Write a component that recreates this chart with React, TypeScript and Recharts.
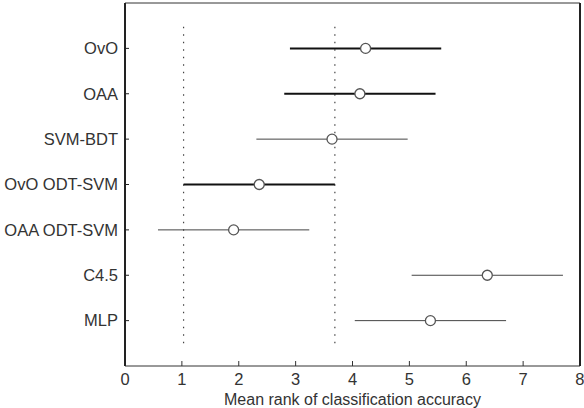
import { ScatterChart, Scatter, XAxis, YAxis, ErrorBar, ReferenceLine, Label } from "recharts";

// Mean ranks (Friedman / Nemenyi style comparison), top to bottom
const methods = ["OvO", "OAA", "SVM-BDT", "OvO ODT-SVM", "OAA ODT-SVM", "C4.5", "MLP"];
const meanRanks = [4.23, 4.13, 3.64, 2.36, 1.91, 6.37, 5.37];
const boldMethods = ["OvO", "OAA", "OvO ODT-SVM"];
const criticalDifference = 2.66;
const controlMethod = "OvO ODT-SVM";
const rankTicks = [0, 1, 2, 3, 4, 5, 6, 7, 8];
const rowTicks = [1, 2, 3, 4, 5, 6, 7];

const rows = methods.map((name, i) => ({
  name,
  pos: methods.length - i,
  rank: meanRanks[i],
  err: criticalDifference / 2,
}));
const boldRows = rows.filter((r) => boldMethods.includes(r.name));
const thinRows = rows.filter((r) => !boldMethods.includes(r.name));

const control = rows.find((r) => r.name === controlMethod)!;
const cdLow = control.rank - criticalDifference / 2;
const cdHigh = control.rank + criticalDifference / 2;

const font = "'Liberation Sans', Arial, sans-serif";
const tickStyle = { fontSize: 16.5, fill: "#333", fontFamily: font };
const axisDark = { stroke: "#222", strokeWidth: 2 };
const axisThin = { stroke: "#333", strokeWidth: 1 };

const RankCircle = (p: any) => (
  <circle cx={p.cx} cy={p.cy} r={5} fill="#fff" stroke="#555" strokeWidth={1.3} />
);

export default function App() {
  return (
    <div style={{ position: "absolute", left: 0, top: 0, fontFamily: font }}>
      <ScatterChart
        width={584}
        height={408}
        margin={{ top: 2, right: 3, left: 5, bottom: 0 }}
        style={{ background: "#fff" }}
      >
        <XAxis
          type="number"
          dataKey="rank"
          domain={[0, 8]}
          ticks={rankTicks}
          height={42}
          tick={tickStyle}
          tickSize={-5}
          tickMargin={12}
          axisLine={axisThin}
          tickLine={{ stroke: "#333" }}
        >
          <Label
            value="Mean rank of classification accuracy"
            position="insideBottom"
            offset={3}
            style={{ fontSize: 16, fill: "#333", fontFamily: font }}
          />
        </XAxis>
        <XAxis
          xAxisId="top"
          orientation="top"
          type="number"
          domain={[0, 8]}
          ticks={rankTicks}
          height={1}
          tickFormatter={() => ""}
          tickSize={-5}
          axisLine={axisThin}
          tickLine={{ stroke: "#333" }}
        />
        <YAxis
          type="number"
          dataKey="pos"
          domain={[0, 8]}
          ticks={rowTicks}
          width={120}
          tick={tickStyle}
          tickFormatter={(v: number) => methods[methods.length - v]}
          tickSize={-4}
          tickMargin={11}
          axisLine={axisDark}
          tickLine={{ stroke: "#222" }}
        />
        <YAxis
          yAxisId="right"
          orientation="right"
          type="number"
          domain={[0, 8]}
          ticks={rowTicks}
          width={1}
          tickFormatter={() => ""}
          tickSize={-5}
          axisLine={axisDark}
          tickLine={{ stroke: "#222" }}
        />
        {[cdLow, cdHigh].map((x) => (
          <ReferenceLine
            key={x}
            segment={[
              { x, y: 0.5 },
              { x, y: 7.5 },
            ]}
            stroke="#444"
            strokeWidth={1.2}
            strokeDasharray="1.5 6"
            ifOverflow="visible"
          />
        ))}
        <Scatter data={thinRows} shape={RankCircle} isAnimationActive={false}>
          <ErrorBar dataKey="err" direction="x" width={0} stroke="#444" strokeWidth={1} />
        </Scatter>
        <Scatter data={boldRows} shape={RankCircle} isAnimationActive={false}>
          <ErrorBar dataKey="err" direction="x" width={0} stroke="#111" strokeWidth={2} />
        </Scatter>
      </ScatterChart>
    </div>
  );
}
